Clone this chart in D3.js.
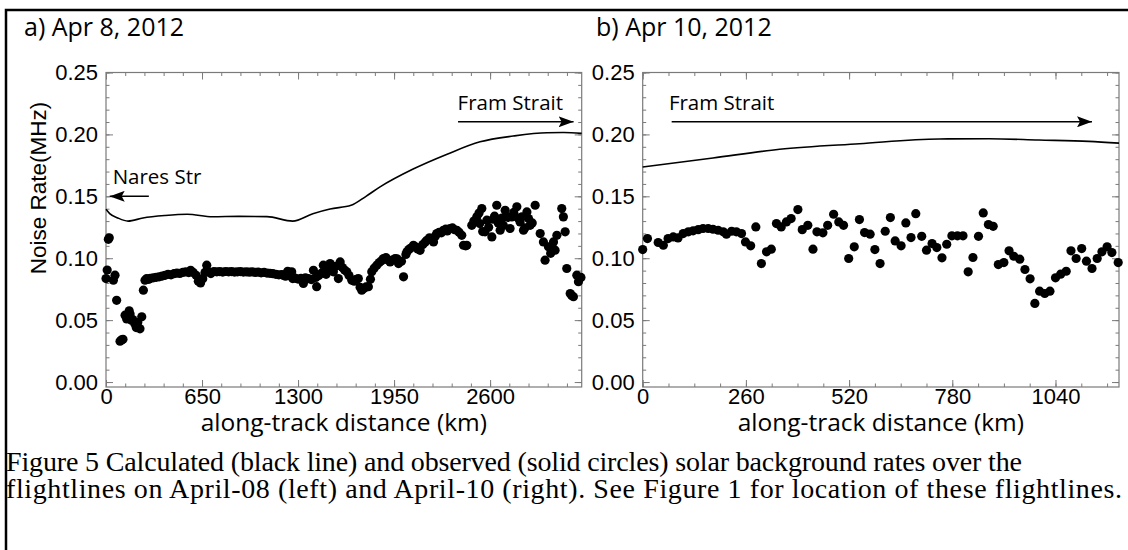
<!DOCTYPE html>
<html lang="en">
<head>
<meta charset="UTF-8">
<title>Figure 5</title>
<script src="https://cdn.jsdelivr.net/npm/d3@7"></script>
<style>
    body { margin: 0; background: #fff; }
    svg { display: block; }
</style>
</head>
<body>
<svg width="1128" height="550"></svg>
<script>
// observed noise rate (solid circles), [distance km, MHz]
const aObs = [[0,0.0836],[8,0.0905],[16,0.1153],[22,0.1165],[50,0.0823],[61,0.0863],[72,0.066],[95,0.033],[105,0.034],[115,0.0345],
    [129,0.054],[140,0.051],[150,0.0545],[157,0.0575],[163,0.055],[172,0.050],[181,0.0505],[195,0.047],[205,0.044],[215,0.048],[230,0.043],
    [242,0.0527],[253,0.0742],[264,0.0823],[275,0.0835],[290,0.083],[300,0.0838],[320,0.0842],[340,0.0846],[360,0.085],[380,0.0856],
    [400,0.0862],[420,0.087],[440,0.0866],[460,0.0875],[480,0.088],[500,0.0877],[520,0.0885],[540,0.089],[560,0.0884],[573,0.0903],
    [590,0.0885],[610,0.0862],[625,0.0815],[640,0.080],[655,0.0835],[670,0.0885],[682,0.0944],[695,0.089],[710,0.0876],[730,0.0893],
    [750,0.089],[770,0.0892],[790,0.0888],[810,0.0893],[830,0.089],[850,0.0892],[870,0.0888],[890,0.089],[910,0.0892],[930,0.0888],
    [950,0.089],[970,0.0887],[990,0.089],[1010,0.0885],[1030,0.0888],[1050,0.0882],[1070,0.0885],[1090,0.088],[1110,0.0878],[1130,0.0875],
    [1150,0.087],[1170,0.0866],[1190,0.0868],[1200,0.0863],[1215,0.0855],[1230,0.0895],[1245,0.0858],[1257,0.089],[1264,0.0836],[1280,0.084],
    [1300,0.0832],[1320,0.0838],[1336,0.0796],[1350,0.0842],[1370,0.0836],[1390,0.0828],[1404,0.0903],[1420,0.0845],[1426,0.077],[1440,0.086],
    [1460,0.088],[1471,0.0944],[1490,0.087],[1500,0.0915],[1517,0.0957],[1525,0.0925],[1539,0.089],[1555,0.0935],[1573,0.0836],[1585,0.097],
    [1600,0.0925],[1615,0.0905],[1630,0.089],[1645,0.086],[1664,0.0823],[1680,0.0815],[1695,0.083],[1708,0.0836],[1720,0.0765],[1731,0.0742],
    [1745,0.0755],[1760,0.0768],[1776,0.077],[1790,0.083],[1799,0.089],[1815,0.092],[1833,0.0944],[1850,0.0965],[1865,0.098],[1878,0.0998],
    [1895,0.1005],[1910,0.0985],[1923,0.097],[1940,0.0985],[1957,0.0998],[1970,0.0995],[1980,0.0957],[2000,0.0975],[2014,0.085],[2030,0.103],
    [2037,0.1052],[2050,0.107],[2060,0.108],[2081,0.1105],[2100,0.109],[2110,0.1075],[2126,0.1064],[2145,0.111],[2160,0.113],[2172,0.1145],
    [2190,0.1165],[2200,0.115],[2217,0.1132],[2230,0.118],[2239,0.1199],[2255,0.121],[2270,0.1205],[2284,0.1226],[2300,0.1235],[2310,0.122],
    [2329,0.124],[2345,0.1245],[2360,0.123],[2375,0.1226],[2390,0.121],[2408,0.1185],[2420,0.1105],[2435,0.11],[2442,0.1105],[2476,0.1266],
    [2490,0.130],[2510,0.1334],[2525,0.1365],[2530,0.128],[2544,0.1401],[2550,0.1215],[2566,0.1213],[2578,0.1307],[2590,0.125],[2612,0.1172],
    [2620,0.1315],[2630,0.134],[2645,0.1428],[2655,0.1285],[2668,0.1226],[2680,0.1325],[2690,0.1265],[2702,0.1387],[2720,0.133],[2735,0.124],
    [2747,0.1334],[2760,0.137],[2781,0.1415],[2790,0.1325],[2803,0.1293],[2815,0.1335],[2826,0.1226],[2835,0.1245],[2849,0.1374],[2860,0.132],
    [2871,0.1266],[2885,0.1285],[2905,0.1428],[2939,0.1199],[2961,0.1132],[2972,0.0984],[2995,0.1092],[3010,0.104],[3029,0.1132],[3040,0.1065],
    [3052,0.1185],[3085,0.1401],[3096,0.1334],[3108,0.1213],[3119,0.0917],[3142,0.0715],[3152,0.070],[3164,0.0689],[3187,0.0863],[3198,0.081],
    [3215,0.0845]];

const bObs = [[0,0.107],[12,0.1159],[39,0.1127],[52,0.1105],[64,0.1159],[77,0.1172],[89,0.1164],[102,0.1199],[115,0.1213],[127,0.1221],
    [140,0.1231],[152,0.124],[165,0.124],[177,0.1234],[190,0.1226],[203,0.1213],[211,0.1194],[224,0.1218],[236,0.1213],[249,0.1199],
    [259,0.1132],[272,0.11],[285,0.1253],[299,0.0957],[312,0.1052],[324,0.1073],[337,0.128],[349,0.1253],[362,0.1293],[374,0.132],
    [391,0.1393],[402,0.1231],[416,0.1266],[429,0.1073],[439,0.1213],[454,0.1205],[466,0.1266],[481,0.1355],[494,0.1293],[506,0.1266],
    [519,0.0998],[533,0.1092],[546,0.1312],[559,0.1207],[573,0.1194],[585,0.107],[598,0.0957],[611,0.1218],[624,0.1328],[636,0.114],
    [651,0.11],[663,0.1285],[676,0.1167],[688,0.136],[703,0.1177],[715,0.1065],[729,0.1118],[741,0.1086],[754,0.1003],[766,0.1113],
    [779,0.1181],[793,0.1181],[807,0.1181],[820,0.089],[832,0.1006],[846,0.1177],[858,0.1366],[871,0.1272],[883,0.1258],[896,0.0949],
    [910,0.0965],[923,0.106],[935,0.1016],[950,0.0992],[963,0.0909],[976,0.0834],[988,0.0635],[1000,0.0734],[1013,0.0715],[1026,0.0734],
    [1040,0.0842],[1053,0.0871],[1067,0.0895],[1079,0.106],[1092,0.0998],[1106,0.1078],[1118,0.0976],[1132,0.0917],[1145,0.0998],[1157,0.1052],
    [1170,0.1092],[1182,0.1046],[1198,0.0965]];

// calculated solar background (black line)
const aCalcDist = [0, 25, 80, 149, 250, 400, 550, 720, 900, 1090, 1264, 1400, 1517, 1659, 1760, 1855, 2079, 2309, 2532, 2756, 2986, 3100, 3220];
const aCalcRate = [0.1395, 0.136, 0.1325, 0.130, 0.1325, 0.1345, 0.1355, 0.1335, 0.1338, 0.1336, 0.130, 0.136, 0.1398, 0.1427, 0.150, 0.1576, 0.172, 0.184, 0.194, 0.1987, 0.2014, 0.2015, 0.2008];
const bCalcDist = [0, 177, 345, 546, 747, 873, 998, 1124, 1200];
const bCalcRate = [0.1737, 0.181, 0.188, 0.1925, 0.1963, 0.1965, 0.1955, 0.1944, 0.193];

// axes
const aTicks = [0, 650, 1300, 1950, 2600];
const bTicks = [0, 260, 520, 780, 1040];
const yTicks = [0, 0.05, 0.10, 0.15, 0.20, 0.25];

const svg = d3.select("svg");
const sans = "'Liberation Sans', Arial, Helvetica, sans-serif";
const human = "'Open Sans', 'Noto Sans', sans-serif";

svg.append("rect")
    .attr("x", 6).attr("y", 10)
    .attr("width", 1200).attr("height", 600)
    .attr("fill", "none").attr("stroke", "#000").attr("stroke-width", 2.5);

const defs = svg.append("defs");
defs.append("marker")
    .attr("id", "head")
    .attr("markerUnits", "userSpaceOnUse")
    .attr("markerWidth", 15).attr("markerHeight", 11)
    .attr("refX", 15).attr("refY", 5.5)
    .attr("orient", "auto")
    .append("path")
    .attr("d", "M0,0L15,5.5L0,11L3,5.5Z")
    .attr("fill", "#000");

// 0.25 at top of box, 0.00 just above the bottom edge
const y = d3.scaleLinear().domain([-0.004, 0.25]).range([387, 72.5]);

function panel(opt) {
    const x = d3.scaleLinear().domain(opt.domain).range(opt.range);
    const g = svg.append("g");
    const [x0, x1] = opt.range;
    const [yb, yt] = y.range();

    // minor ticks
    const minorX = d3.range(0, opt.domain[1], opt.minor);
    const minorY = d3.range(0, 0.2501, 0.01);
    g.append("g").attr("transform", `translate(0,${yb})`)
        .call(d3.axisBottom(x).tickValues(minorX).tickSize(-3.5).tickFormat(""));
    g.append("g").attr("transform", `translate(0,${yt})`)
        .call(d3.axisTop(x).tickValues(minorX).tickSize(-3.5).tickFormat(""));
    g.append("g").attr("transform", `translate(${x0},0)`)
        .call(d3.axisLeft(y).tickValues(minorY).tickSize(-3.5).tickFormat(""));
    g.append("g").attr("transform", `translate(${x1},0)`)
        .call(d3.axisRight(y).tickValues(minorY).tickSize(-3.5).tickFormat(""));

    // major ticks
    g.append("g").attr("class", "xaxis").attr("transform", `translate(0,${yb})`)
        .call(d3.axisBottom(x).tickValues(opt.ticks).tickSize(-7).tickPadding(1).tickFormat(d3.format("d")));
    g.append("g").attr("transform", `translate(0,${yt})`)
        .call(d3.axisTop(x).tickValues(opt.ticks).tickSize(-7).tickFormat(""));
    g.append("g").attr("class", "yaxis").attr("transform", `translate(${x0},0)`)
        .call(d3.axisLeft(y).tickValues(yTicks).tickSize(-7).tickPadding(8).tickFormat(d3.format(".2f")));
    g.append("g").attr("transform", `translate(${x1},0)`)
        .call(d3.axisRight(y).tickValues(yTicks).tickSize(-7).tickFormat(""));

    g.selectAll(".domain").remove();
    g.selectAll(".tick line").attr("stroke", "#7a7a7a");
    g.selectAll(".xaxis text, .yaxis text")
        .attr("fill", "#000")
        .style("font-family", sans)
        .style("font-size", "22px");

    g.append("rect")
        .attr("x", x0).attr("y", yt)
        .attr("width", x1 - x0).attr("height", yb - yt)
        .attr("fill", "none").attr("stroke", "#7a7a7a").attr("stroke-width", 1.2);

    // calculated line
    const line = d3.line()
        .x((d, i) => x(opt.calcDist[i]))
        .y(d => y(d))
        .curve(d3.curveMonotoneX);
    g.append("path")
        .datum(opt.calcRate)
        .attr("d", line)
        .attr("fill", "none")
        .attr("stroke", "#000")
        .attr("stroke-width", 1.6);

    // observed points
    g.append("g").selectAll("circle")
        .data(opt.obs)
        .join("circle")
        .attr("cx", d => x(d[0]))
        .attr("cy", d => y(d[1]))
        .attr("r", 4.6)
        .attr("fill", "#000");

    // arrows and place names
    opt.notes.forEach(n => {
        g.append("line")
            .attr("x1", x(n.from)).attr("x2", x(n.to))
            .attr("y1", y(n.at)).attr("y2", y(n.at))
            .attr("stroke", "#000").attr("stroke-width", 1.5)
            .attr("marker-end", "url(#head)");
        g.append("text")
            .attr("x", x(n.textAt)).attr("y", y(n.textY))
            .attr("dy", "0.35em")
            .style("font-family", human)
            .style("font-size", "20.5px")
            .text(n.label);
    });

    // titles
    g.append("text")
        .attr("x", opt.titleX).attr("y", 36)
        .style("font-family", human)
        .style("font-size", "25px")
        .text(opt.title);
    g.append("text")
        .attr("x", (x0 + x1) / 2).attr("y", 431)
        .attr("text-anchor", "middle")
        .style("font-family", human)
        .style("font-size", "24.5px")
        .text("along-track distance (km)");
}

panel({
    domain: [0, 3220], range: [106, 581.7], minor: 130,
    ticks: aTicks, obs: aObs, calcDist: aCalcDist, calcRate: aCalcRate,
    title: "a) Apr 8, 2012", titleX: 24,
    notes: [
        {from: 290, to: 25, at: 0.15, label: "Nares Str", textAt: 45, textY: 0.166},
        {from: 2383, to: 3165, at: 0.2102, label: "Fram Strait", textAt: 2380, textY: 0.2255}
    ]
});

panel({
    domain: [0, 1200], range: [642.7, 1119], minor: 65,
    ticks: bTicks, obs: bObs, calcDist: bCalcDist, calcRate: bCalcRate,
    title: "b) Apr 10, 2012", titleX: 596,
    notes: [
        {from: 73, to: 1132, at: 0.2102, label: "Fram Strait", textAt: 66, textY: 0.2255}
    ]
});

svg.append("text")
    .attr("transform", "translate(46,188) rotate(-90)")
    .attr("text-anchor", "middle")
    .style("font-family", sans)
    .style("font-size", "22.5px")
    .text("Noise Rate(MHz)");

const caption = [
    "Figure 5 Calculated (black line) and observed (solid circles) solar background rates over the",
    "flightlines on April-08 (left) and April-10 (right). See Figure 1 for location of these flightlines."
];
const captionWidth = [1016, 1116];
svg.append("g").selectAll("text")
    .data(caption)
    .join("text")
    .attr("x", 6)
    .attr("y", (d, i) => 471 + i * 27)
    .attr("textLength", (d, i) => captionWidth[i])
    .attr("lengthAdjust", "spacing")
    .style("font-family", "'Liberation Serif', 'Times New Roman', serif")
    .style("font-size", "28px")
    .text(d => d);
</script>
</body>
</html>
